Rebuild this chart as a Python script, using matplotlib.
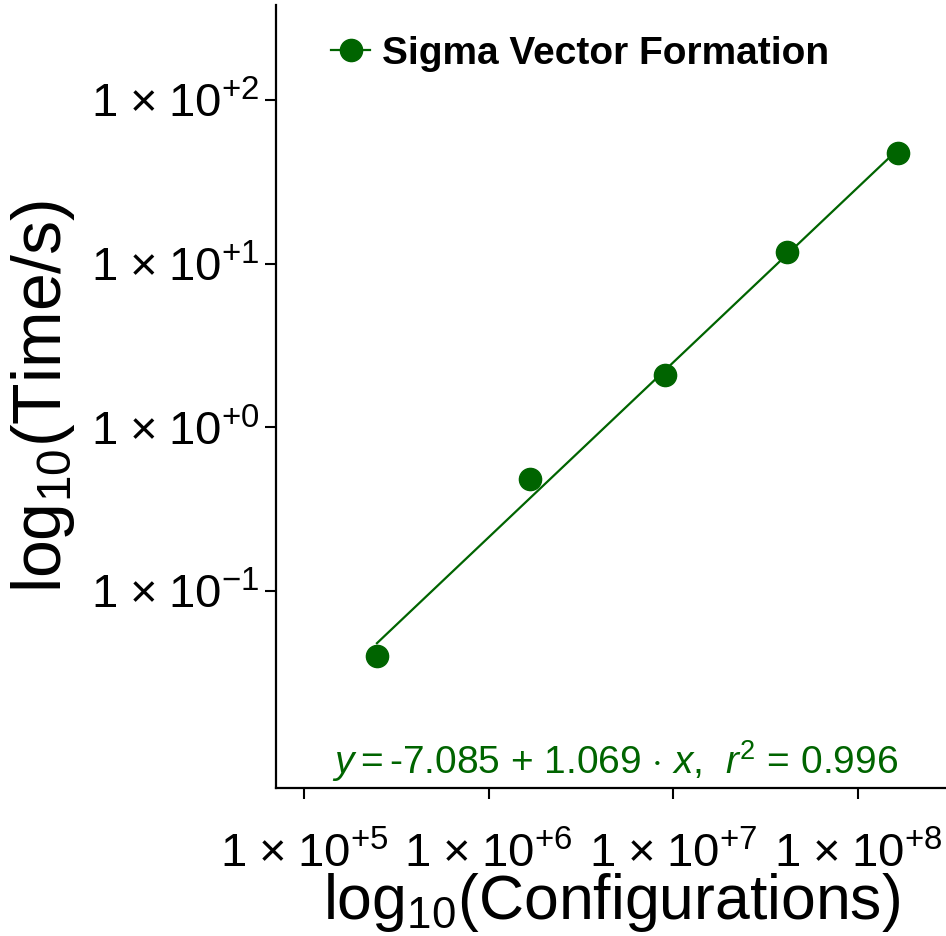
import numpy as np
import matplotlib
matplotlib.use("Agg")
import matplotlib.pyplot as plt

plt.rcParams['font.family'] = ['Liberation Sans', 'DejaVu Sans']
plt.rcParams['mathtext.fontset'] = 'custom'
plt.rcParams['mathtext.rm'] = 'Liberation Sans'
plt.rcParams['mathtext.it'] = 'Liberation Sans:italic'
plt.rcParams['mathtext.bf'] = 'Liberation Sans:bold'

# timings for sigma vector formation
configurations = [2.48e5, 1.68e6, 9.0e6, 4.12e7, 1.645e8]
times = [0.0402, 0.484, 2.09, 11.8, 47.4]

# fitted line in log10 space: y = a + b * x
fit_a = -7.085
fit_b = 1.069
fit_r2 = 0.996

xticks = [1e5, 1e6, 1e7, 1e8]
yticks = [1e-1, 1e0, 1e1, 1e2]

def sci_label(v):
    e = int(round(np.log10(v)))
    sign = '+' if e >= 0 else '-'
    return r'$1\hspace{0.1}\times\hspace{0.1}10^{%s%d}$' % (sign, abs(e))

green = '#006400'

fig = plt.figure(figsize=(9.46, 9.36), dpi=100)
ax = fig.add_axes([0.2918, 0.1581, 0.7082, 0.8366])

lx = np.log10(configurations)
fit_x = np.array([lx[0], lx[-1]])
fit_y = fit_a + fit_b * fit_x
ax.plot(10 ** fit_x, 10 ** fit_y, color=green, lw=1.6, zorder=2)
ax.plot(configurations, times, 'o', color=green, ms=16, zorder=3)

# legend handle: marker with a short line through it
h, = ax.plot([], [], '-o', color=green, ms=16, lw=1.6)
leg = ax.legend([h], ['Sigma Vector Formation'], loc='upper left',
                bbox_to_anchor=(0.03, 1.005), frameon=False,
                handlelength=1.0, handletextpad=0.3,
                prop={'weight': 'bold', 'size': 28})

ax.set_xscale('log')
ax.set_yscale('log')
ax.set_xlim(10 ** 4.848, 10 ** 8.476)
ax.set_ylim(10 ** -2.203, 10 ** 2.580)

ax.set_xticks(xticks)
ax.set_xticklabels([sci_label(v) for v in xticks])
ax.set_yticks(yticks)
ax.set_yticklabels([sci_label(v) for v in yticks])
ax.minorticks_off()
ax.tick_params(axis='both', direction='out', length=8, width=1.5,
               labelsize=34)
ax.tick_params(axis='x', pad=24)
ax.tick_params(axis='y', pad=4)

for s in ['top', 'right']:
    ax.spines[s].set_visible(False)
for s in ['left', 'bottom']:
    ax.spines[s].set_linewidth(1.6)

ax.set_xlabel(r'log$_{10}$(Configurations)', fontsize=45, labelpad=-5)
ax.set_ylabel(r'log$_{10}$(Time/s)', fontsize=49, labelpad=10)

eq = (r'$y=$' + '-%.3f ' % -fit_a + r'$+$' + ' %.3f ' % fit_b
      + r'$\cdot$' + ' ' + r'$x$' + ',  ' + r'$r^2$' + ' = %.3f' % fit_r2)
ax.text(0.928, 0.005, eq, transform=ax.transAxes, ha='right', va='bottom',
        color=green, fontsize=28)

fig.savefig('out.png', dpi=100)
